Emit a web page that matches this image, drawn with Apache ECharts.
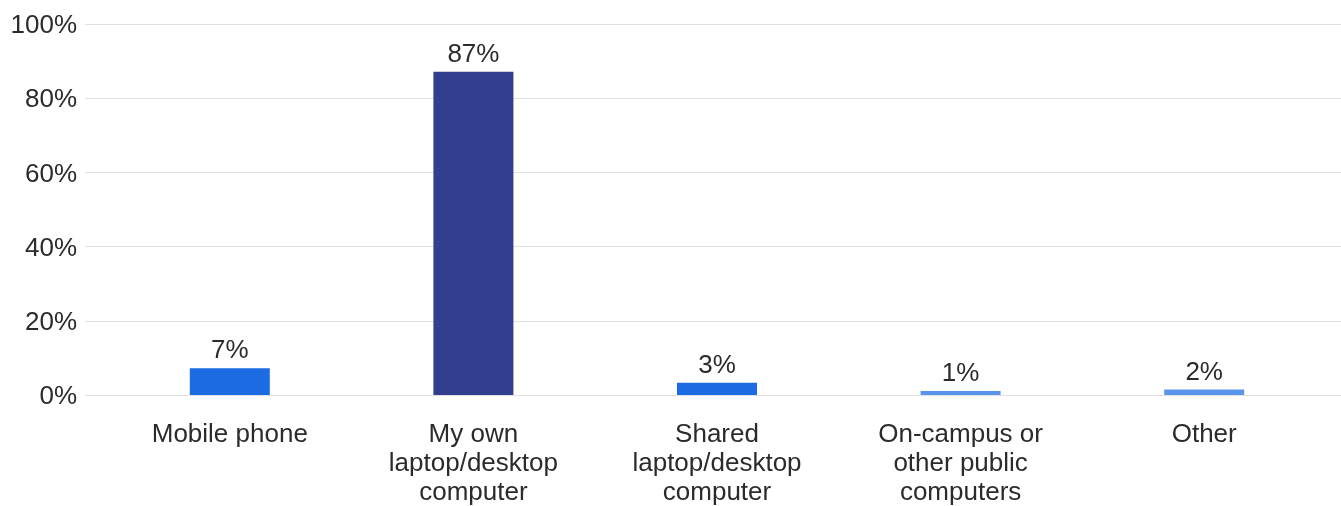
<!DOCTYPE html>
<html><head><meta charset="utf-8">
<script src="https://cdn.jsdelivr.net/npm/echarts@6/dist/echarts.min.js"></script>
<style>html,body{margin:0;padding:0;background:#fff}#c{width:1341px;height:506px}</style>
</head><body><div id="c"></div>
<script>
const categories = ['Mobile phone', 'My own\nlaptop/desktop\ncomputer', 'Shared\nlaptop/desktop\ncomputer', 'On-campus or\nother public\ncomputers', 'Other'];
const values = [7.2, 87.1, 3.3, 1.1, 1.5];
const barColors = ['#1b6ce3', '#323e8e', '#1b6ce3', '#5a95ec', '#5a95ec'];
const yTicks = [0, 20, 40, 60, 80, 100];

const chart = echarts.init(document.getElementById('c'));
const font = '"Liberation Sans", Arial, sans-serif';
chart.setOption({
  animation: false,
  grid: [
    {left: 85, right: 0, top: 24, bottom: 111, outerBoundsMode: 'none', containLabel: false},
    {left: 108, right: 15, top: 24, bottom: 111, outerBoundsMode: 'none', containLabel: false}
  ],
  xAxis: [
    {gridIndex: 0, type: 'category', data: [''], show: false},
    {gridIndex: 1, type: 'category', data: categories,
     axisLine: {show: false}, axisTick: {show: false},
     axisLabel: {interval: 0, color: '#2b2b2b', fontSize: 26, fontFamily: font, lineHeight: 29, margin: 25}}
  ],
  yAxis: [
    {gridIndex: 0, type: 'value', min: 0, max: 100, interval: 20,
     axisLine: {show: false}, axisTick: {show: false},
     axisLabel: {color: '#2b2b2b', fontSize: 26, fontFamily: font, margin: 8,
                 formatter: v => yTicks.includes(v) ? '{t|' + v + '%}' : '',
                 rich: {t: {color: '#2b2b2b', fontSize: 26, fontFamily: font, padding: [4, 0, 0, 0]}}},
     splitLine: {lineStyle: {color: '#e0e0e0', width: 1}}},
    {gridIndex: 1, type: 'value', min: 0, max: 100, interval: 20, show: false}
  ],
  series: [{
    type: 'bar', xAxisIndex: 1, yAxisIndex: 1,
    barWidth: 80,
    data: values.map((v, i) => ({value: v, itemStyle: {color: barColors[i]}})),
    label: {show: true, position: 'top', distance: 4, color: '#2b2b2b', fontSize: 26, fontFamily: font,
            formatter: p => Math.round(p.value) + '%'}
  }]
});
</script></body></html>
